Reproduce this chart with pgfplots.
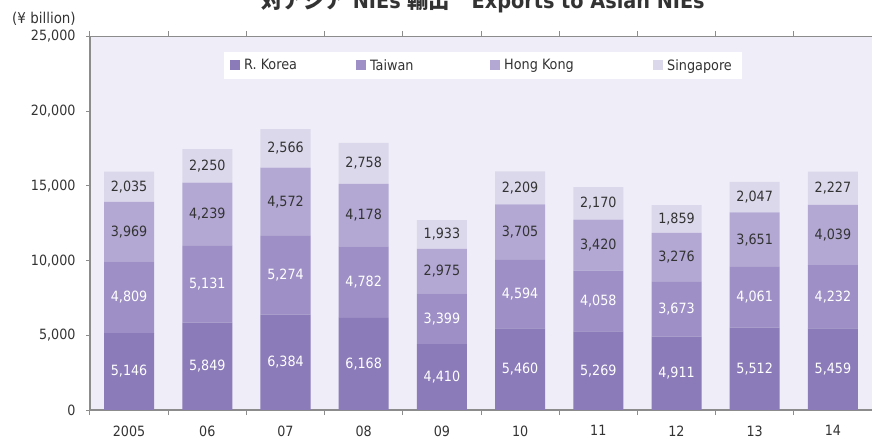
\documentclass[border=0pt]{standalone}
\usepackage{pgfplots}
\pgfplotsset{compat=1.18}
\usepackage{fontspec}
\IfFontExistsTF{DejaVu Sans Condensed}{\setmainfont{DejaVu Sans Condensed}}{\setmainfont{DejaVu Sans}}
\newfontfamily\cjk{Noto Sans CJK JP}
\definecolor{cKor}{HTML}{8B7BB9}
\definecolor{cTai}{HTML}{9E90C6}
\definecolor{cHK}{HTML}{B3A8D3}
\definecolor{cSin}{HTML}{DCD8EC}
\definecolor{bgc}{HTML}{EFEDF7}
\definecolor{axc}{HTML}{8C8C8C}
\definecolor{txt}{HTML}{333333}
\pgfkeys{/pgf/number format/.cd,1000 sep={,},assume math mode=true}
\begin{document}
\begin{tikzpicture}
\begin{axis}[
  at={(0,0)}, anchor=south west,
  width=782bp, height=373.5bp, scale only axis,
  ybar stacked, bar width=50bp,
  xmin=-0.5, xmax=9.5, ymin=0, ymax=25000,
  axis y line*=left,
  axis background/.style={fill=bgc},
  axis line style={draw=axc, line width=1.3bp},
  xtick={0,...,9},
  xticklabels={2005,06,07,08,09,10,11,12,13,14},
  major x tick style={draw=none},
  minor xtick={-0.5,0.5,...,9.5},
  minor x tick style={draw=axc, line width=1bp},
  minor tick length=5bp,
  ytick={0,5000,10000,15000,20000,25000},
  y tick style={draw=axc, line width=1bp},
  major tick length=4bp,
  tick align=outside,
  scaled y ticks=false,
  yticklabel={\pgfmathprintnumber{\tick}},
  tick label style={font=\fontsize{14.2}{16}\selectfont, text=txt},
  xticklabel style={yshift=-8bp},
  yticklabel style={xshift=-7bp},
  visualization depends on={rawy \as \rawy},
  nodes near coords={\pgfmathprintnumber{\rawy}},
  every node near coord/.append style={anchor=center, font=\fontsize{14.2}{16}\selectfont},
  legend columns=4,
  legend image code/.code={\fill[#1] (0bp,-5bp) rectangle (10bp,5bp);},
  legend style={at={(0.1714,0.9585)}, anchor=north west, draw=none, fill=white,
    font=\fontsize{14.3}{16}\selectfont, text=txt,
    inner xsep=6bp, inner ysep=5bp,
    nodes={inner xsep=4bp, inner ysep=2bp}},
]
\addplot[fill=cKor, draw=none, every node near coord/.append style={text=white}] coordinates {
 (0,5146) (1,5849) (2,6384) (3,6168) (4,4410) (5,5460) (6,5269) (7,4911) (8,5512) (9,5459)};
\addlegendentry{\makebox[108bp][l]{R. Korea}}
\addplot[fill=cTai, draw=none, every node near coord/.append style={text=white}] coordinates {
 (0,4809) (1,5131) (2,5274) (3,4782) (4,3399) (5,4594) (6,4058) (7,3673) (8,4061) (9,4232)};
\addlegendentry{\makebox[116bp][l]{Taiwan}}
\addplot[fill=cHK, draw=none, every node near coord/.append style={text=txt}] coordinates {
 (0,3969) (1,4239) (2,4572) (3,4178) (4,2975) (5,3705) (6,3420) (7,3276) (8,3651) (9,4039)};
\addlegendentry{\makebox[145bp][l]{Hong Kong}}
\addplot[fill=cSin, draw=none, every node near coord/.append style={text=txt}] coordinates {
 (0,2035) (1,2250) (2,2566) (3,2758) (4,1933) (5,2209) (6,2170) (7,1859) (8,2047) (9,2227)};
\addlegendentry{Singapore}
\end{axis}
\node[anchor=center, text=txt, font=\fontsize{15}{17}\selectfont] at (-46bp,391bp) {(¥ billion)};
\node[anchor=base, text=txt, font=\fontsize{21.5}{24}\selectfont\bfseries] at (393bp,401bp)
  {{\cjk\bfseries 対アジア} NIEs {\cjk\bfseries 輸出}{\cjk\bfseries　}Exports to Asian NIEs};
\pgfresetboundingbox
\path[use as bounding box] (-90bp,-30bp) rectangle (782bp,410bp);
\end{tikzpicture}
\end{document}
